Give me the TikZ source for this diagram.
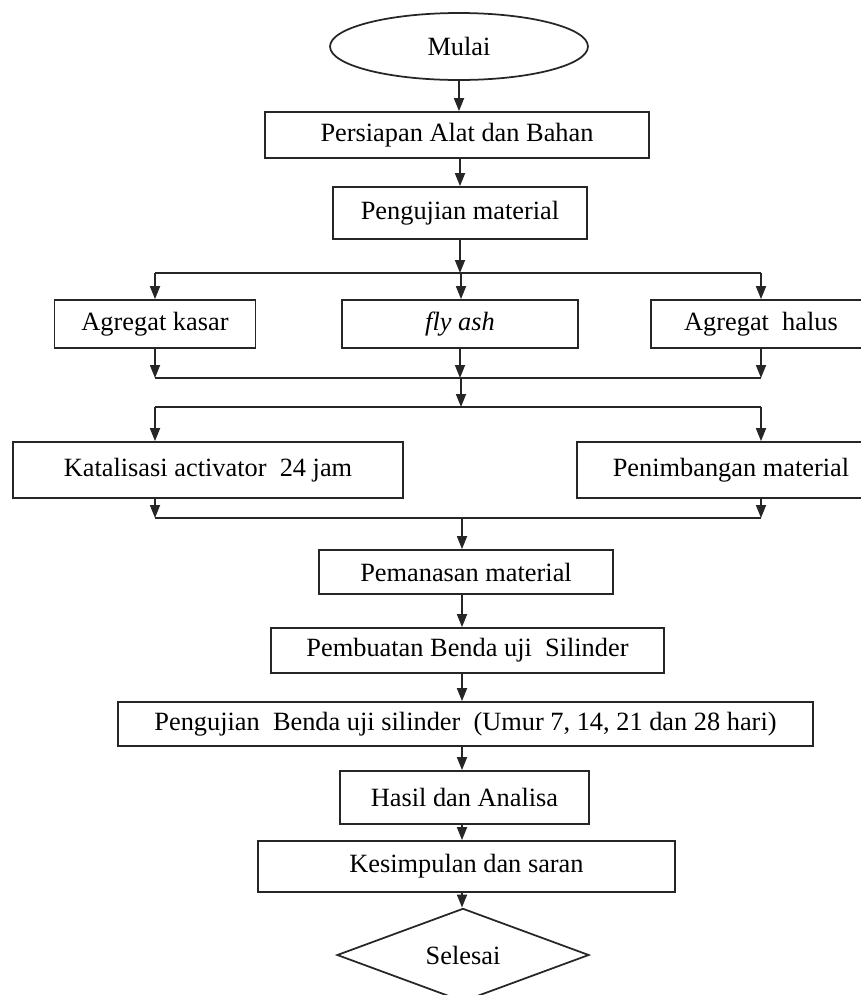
\documentclass[tikz,border=0pt]{standalone}
\usepackage{fontspec}
\setmainfont{Liberation Serif}
\usepackage{tikz}
\usetikzlibrary{calc}
\usetikzlibrary{shapes.geometric}
\usetikzlibrary{arrows.meta}

\tikzset{
  kotak/.style={draw=black!85, line width=0.035cm, rectangle, inner sep=0pt, align=center},
  panah/.style={draw=black!85, line width=0.035cm, -{Triangle[length=0.26cm,width=0.2cm]}},
  garis/.style={draw=black!85, line width=0.035cm},
}

\begin{document}
\begin{tikzpicture}[x=0.02cm, y=-0.02cm]
                \useasboundingbox (0,0) rectangle (861,995);
                \clip (0,0) rectangle (861,995);
                {\fontsize{15}{17}\selectfont

                % Drawing start and first steps
                \node[kotak, ellipse, minimum width=5.16cm, minimum height=1.34cm] (mulai) at (459,46.5) {Mulai};%
                \node[kotak, minimum width=7.68cm, minimum height=0.92cm] (persiapan) at (457,135) {Persiapan Alat dan Bahan};%
                \node[kotak, minimum width=5.08cm, minimum height=1.04cm] (uji) at (460,213) {Pengujian material};%

                % Drawing material boxes
                \node[kotak, minimum width=4.02cm, minimum height=0.96cm] (kasar) at (155,324) {Agregat kasar};%
                \node[kotak, minimum width=4.72cm, minimum height=0.96cm] (flyash) at (460,324) {\textit{fly ash}};%
                \node[kotak, minimum width=4.40cm, minimum height=0.96cm] (halus) at (761,324) {Agregat \ halus};%

                % Drawing preparation boxes
                \node[kotak, minimum width=7.80cm, minimum height=1.12cm] (katalis) at (208,470) {Katalisasi activator \ 24 jam};%
                \node[kotak, minimum width=7.36cm, minimum height=1.12cm] (timbang) at (761,470) {\hspace*{-1.2cm}Penimbangan material};%

                % Drawing remaining steps
                \node[kotak, minimum width=5.88cm, minimum height=0.88cm] (panas) at (466,572) {Pemanasan material};%
                \node[kotak, minimum width=7.86cm, minimum height=0.90cm] (buat) at (467.5,650.5) {Pembuatan Benda uji \ Silinder};%
                \node[kotak, minimum width=13.90cm, minimum height=0.88cm] (ujibenda) at (465.5,724) {Pengujian \ Benda uji silinder \ (Umur 7, 14, 21 dan 28 hari)};%
                \node[kotak, minimum width=4.98cm, minimum height=1.06cm] (hasil) at (464.5,797.5) {Hasil dan Analisa};%
                \node[kotak, minimum width=8.34cm, minimum height=1.02cm] (simpul) at (466.5,866.5) {Kesimpulan dan saran};%
                \node[kotak, diamond, minimum width=5.04cm, minimum height=1.72cm] (selesai) at (463,955) {Selesai};%

                % Junction points
                \coordinate (jA) at (461,273);%
                \coordinate (jB) at (461,378);%
                \coordinate (jC) at (461,407);%
                \coordinate (jD) at (462,518);%

                % Drawing arrows at the top
                \draw[panah] (mulai.south) -- (mulai.south |- persiapan.north);%
                \draw[panah] (persiapan.south -| uji) -- (uji.north);%
                \draw[panah] (uji.south) -- (uji.south |- jA);%

                % Drawing split to materials
                \draw[garis] (kasar |- jA) -- (halus |- jA);%
                \draw[panah] (kasar |- jA) -- (kasar.north);%
                \draw[panah] (jA) -- (jA |- flyash.north);%
                \draw[panah] (halus |- jA) -- (halus.north);%

                % Drawing join of materials
                \draw[panah] (kasar.south) -- (kasar.south |- jB);%
                \draw[panah] (flyash.south) -- (flyash.south |- jB);%
                \draw[panah] (halus.south) -- (halus.south |- jB);%
                \draw[garis] (kasar |- jB) -- (halus |- jB);%
                \draw[panah] (jB) -- (jC);%

                % Drawing split to preparation
                \draw[garis] (kasar |- jC) -- (halus |- jC);%
                \draw[panah] (kasar |- jC) -- (kasar |- katalis.north);%
                \draw[panah] (halus |- jC) -- (halus |- timbang.north);%

                % Drawing join of preparation
                \draw[panah] (kasar |- katalis.south) -- (kasar |- jD);%
                \draw[panah] (halus |- timbang.south) -- (halus |- jD);%
                \draw[garis] (kasar |- jD) -- (halus |- jD);%
                \draw[panah] (jD) -- (jD |- panas.north);%

                % Drawing arrows at the bottom
                \draw[panah] (jD |- panas.south) -- (jD |- buat.north);%
                \draw[panah] (jD |- buat.south) -- (jD |- ujibenda.north);%
                \draw[panah] (jD |- ujibenda.south) -- (jD |- hasil.north);%
                \draw[panah] (jD |- hasil.south) -- (jD |- simpul.north);%
                \draw[panah] (jD |- simpul.south) -- (jD |- selesai.north);%
                }
            \end{tikzpicture}
\end{document}
